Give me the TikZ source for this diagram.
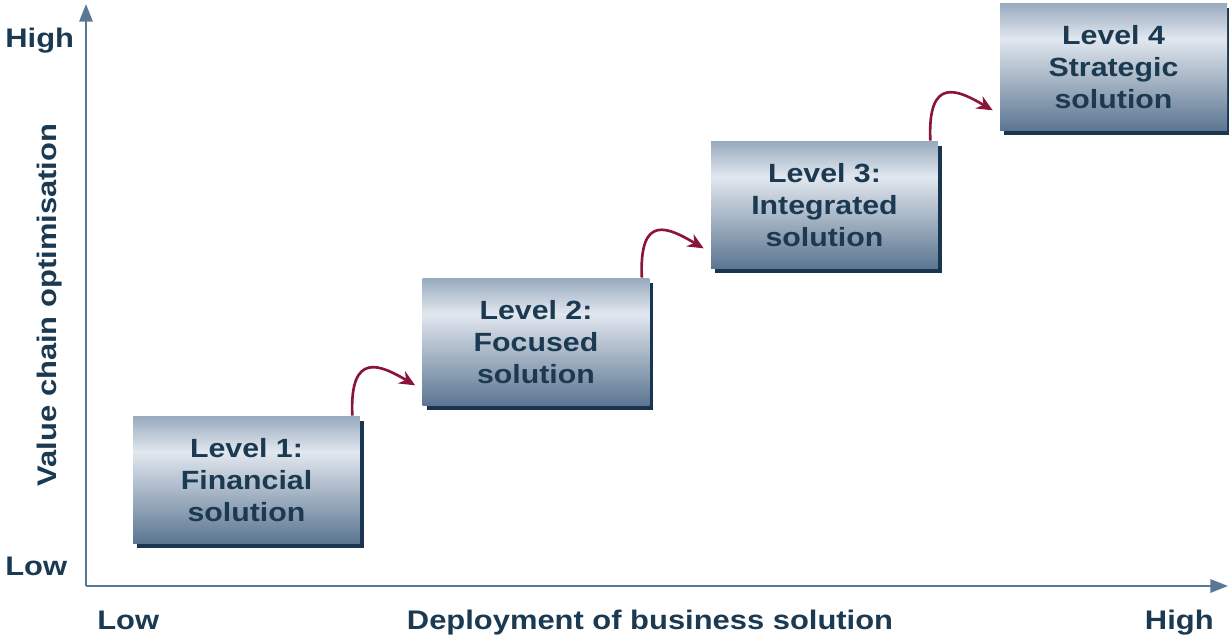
\documentclass[tikz,border=0pt]{standalone}
\usepackage{fontspec}
\setmainfont{Liberation Sans}[FakeStretch=1.15]
\usetikzlibrary{arrows.meta,shadows,calc}
\definecolor{axisc}{HTML}{5A7896}
\definecolor{txtc}{HTML}{1B3A52}
\definecolor{shadc}{HTML}{1A3550}
\definecolor{redc}{HTML}{8A1538}
\definecolor{btop}{HTML}{98AABF}
\definecolor{blight}{HTML}{E1E7EE}
\definecolor{bbot}{HTML}{5B7591}
\pgfdeclareverticalshading{boxshade}{100bp}{color(0bp)=(bbot); color(25bp)=(bbot); color(61bp)=(blight); color(75bp)=(btop); color(100bp)=(btop)}
\tikzset{
  lvl/.style={minimum width=4.54cm, minimum height=2.56cm, inner sep=0pt,
    shading=boxshade, text=txtc, align=center,
    font=\fontsize{15}{18.1}\selectfont\bfseries,
    execute at begin node={\rule{0pt}{14.4pt}},
    drop shadow={shadow xshift=0.08cm, shadow yshift=-0.09cm, fill=shadc, opacity=1}},
  axisline/.style={draw=axisc, line width=1.3pt, -{Triangle[length=10pt,width=7.5pt]}},
  redarrow/.style={draw=redc, line width=1.5pt, -{Stealth[length=9pt,width=8pt]}},
  lab/.style={text=txtc, font=\fontsize{15.3}{18}\selectfont\bfseries, inner sep=0pt}
}
\begin{document}
\begin{tikzpicture}[x=0.02cm, y=-0.02cm]
\useasboundingbox (0,0) rectangle (1229,635);
% axes
\coordinate (o) at (86,586);
\coordinate (ytop) at (86,4);
\coordinate (xend) at (1228,586);
\draw[axisline] (o) -- (ytop);
\draw[axisline] (o) -- (xend);
% labels
\node[lab, anchor=base west] (yhigh) at (5,48) {High};
\node[lab, anchor=base west] (ylow) at (5,575) {Low};
\node[lab, anchor=base west] (xlow) at (97,629) {Low};
\node[lab, anchor=base] (xlab) at (650,629) {Deployment of business solution};
\node[lab, anchor=base east] (xhigh) at (1214,629) {High};
\node[lab, rotate=90] (ylab) at (50,305) {Value chain optimisation};
% boxes
\node[lvl] (l1) at (246.5,480) {Level 1:\\Financial\\solution};
\node[lvl] (l2) at (536,342) {Level 2:\\Focused\\solution};
\node[lvl] (l3) at (824.5,205) {Level 3:\\Integrated\\solution};
\node[lvl] (l4) at (1113.5,67) {Level 4\\Strategic\\solution};
% arrows
\draw[redarrow] ($(l1.north east)+(-8,0)$) .. controls +(-3,-66) and +(-34,-20) .. ($(l2.south west)+(-7,-21)$);
\draw[redarrow] ($(l2.north east)+(-8,0)$) .. controls +(-3,-66) and +(-34,-20) .. ($(l3.south west)+(-7,-21)$);
\draw[redarrow] ($(l3.north east)+(-8,0)$) .. controls +(-3,-66) and +(-34,-20) .. ($(l4.south west)+(-7,-21)$);
\end{tikzpicture}
\end{document}
